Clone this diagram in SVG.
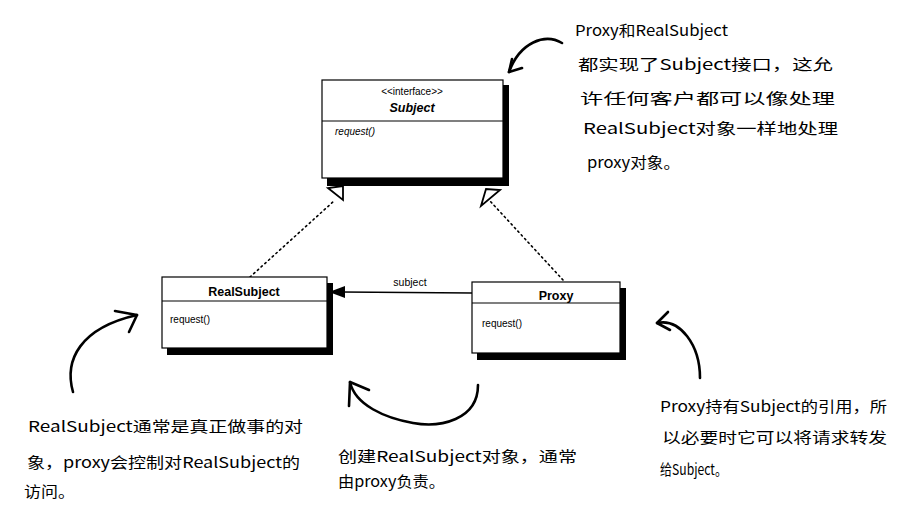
<svg xmlns="http://www.w3.org/2000/svg" width="915" height="526" viewBox="0 0 915 526">
<style>
.box{fill:#fff;stroke:#000;stroke-width:1.2}
.shadow{fill:#000}
.div{stroke:#000;stroke-width:1.2}
.uml{font-family:"Liberation Sans",Arial,sans-serif;fill:#000}
.note{font-family:"Noto Sans CJK SC","Liberation Sans",sans-serif;font-size:15px;fill:#000}
.hand{fill:none;stroke:#000;stroke-width:2.6;stroke-linecap:round;stroke-linejoin:round}
.dot{fill:none;stroke:#000;stroke-width:1.6;stroke-dasharray:1.5 3.5;stroke-linecap:round}
</style>
<rect width="915" height="526" fill="#fff"/>
<g id="connectors">
<path class="dot" d="M250,277 L334,201"/>
<path class="dot" d="M563,280 L490,201"/>
<polygon points="343,186 328,188 343,200" fill="#fff" stroke="#000" stroke-width="1.8"/>
<polygon points="486,189 481,206 500,190" fill="#fff" stroke="#000" stroke-width="1.8"/>
<line x1="342" y1="292" x2="472" y2="293" stroke="#000" stroke-width="1.6"/>
<polygon points="329,292 345,286 345,298" fill="#000"/>
<text class="uml" x="410" y="286" font-size="10.5" text-anchor="middle">subject</text>
</g>
<g id="Subject">
<rect class="shadow" x="327" y="85" width="182" height="101"/>
<rect class="box" x="322" y="80" width="181" height="98"/>
<line class="div" x1="322" y1="121" x2="503" y2="121"/>
<text class="uml" x="412" y="95" font-size="10" text-anchor="middle">&lt;&lt;interface&gt;&gt;</text>
<text class="uml" x="412" y="112" font-size="12.5" font-weight="bold" font-style="italic" text-anchor="middle">Subject</text>
<text class="uml" x="335" y="135" font-size="10" font-style="italic">request()</text>
</g>
<g id="RealSubject">
<rect class="shadow" x="167" y="283" width="166" height="72"/>
<rect class="box" x="162" y="277" width="165" height="71"/>
<line class="div" x1="162" y1="301" x2="327" y2="301"/>
<text class="uml" x="244" y="296" font-size="12.5" font-weight="bold" text-anchor="middle">RealSubject</text>
<text class="uml" x="170" y="323" font-size="10">request()</text>
</g>
<g id="Proxy">
<rect class="shadow" x="477" y="288" width="149" height="72"/>
<rect class="box" x="472" y="282" width="148" height="71"/>
<line class="div" x1="472" y1="303" x2="620" y2="303"/>
<text class="uml" x="556" y="300" font-size="12.5" font-weight="bold" text-anchor="middle">Proxy</text>
<text class="uml" x="482" y="327" font-size="10">request()</text>
</g>
<g id="arrows">
<path class="hand" d="M562,43 C545,33 520,42 509,72"/>
<path class="hand" d="M512,59 L509,72 L522,68"/>
<path class="hand" d="M73,392 C64,360 80,328 137,315"/>
<path class="hand" d="M115,311 L137,315 L129,332"/>
<path class="hand" d="M478,385 C478,420 440,428 413,423 C385,418 355,405 350,382"/>
<path class="hand" d="M349,406 L350,382 L369,390"/>
<path class="hand" d="M700,378 C700,345 680,318 657,323"/>
<path class="hand" d="M668,312 L657,323 L670,330"/>
</g>
<g id="note-top">
<text class="note" x="575" y="36" textLength="153" lengthAdjust="spacingAndGlyphs">Proxy和RealSubject</text>
<text class="note" x="578" y="70" textLength="255" lengthAdjust="spacingAndGlyphs">都实现了Subject接口，这允</text>
<text class="note" x="580" y="104" textLength="255" lengthAdjust="spacingAndGlyphs">许任何客户都可以像处理</text>
<text class="note" x="583" y="134" textLength="255" lengthAdjust="spacingAndGlyphs">RealSubject对象一样地处理</text>
<text class="note" x="587" y="168" textLength="93" lengthAdjust="spacingAndGlyphs">proxy对象。</text>
</g>
<g id="note-left">
<text class="note" x="28" y="432" textLength="275" lengthAdjust="spacingAndGlyphs">RealSubject通常是真正做事的对</text>
<text class="note" x="27" y="468" textLength="273" lengthAdjust="spacingAndGlyphs">象，proxy会控制对RealSubject的</text>
<text class="note" x="24" y="497" textLength="51" lengthAdjust="spacingAndGlyphs">访问。</text>
</g>
<g id="note-middle">
<text class="note" x="338" y="462" textLength="239" lengthAdjust="spacingAndGlyphs">创建RealSubject对象，通常</text>
<text class="note" x="338" y="487" textLength="107" lengthAdjust="spacingAndGlyphs">由proxy负责。</text>
</g>
<g id="note-right">
<text class="note" x="660" y="412" textLength="227" lengthAdjust="spacingAndGlyphs">Proxy持有Subject的引用，所</text>
<text class="note" x="662" y="443" textLength="225" lengthAdjust="spacingAndGlyphs">以必要时它可以将请求转发</text>
<text class="note" x="660" y="475" textLength="67" lengthAdjust="spacingAndGlyphs">给Subject。</text>
</g>
</svg>
